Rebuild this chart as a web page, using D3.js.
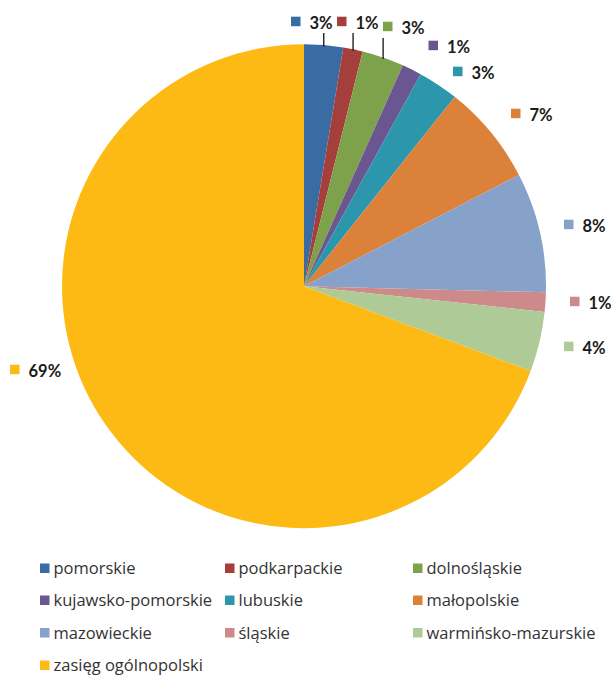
<!DOCTYPE html>
<html>
<head>
<meta charset="utf-8">
<script src="https://cdn.jsdelivr.net/npm/d3@7"></script>
<style>
  html, body { margin: 0; padding: 0; background: #fff; }
  svg { display: block; }
</style>
</head>
<body>
<svg id="chart" width="611" height="675"></svg>
<script>
// ---- data ----
const categories = ["pomorskie", "podkarpackie", "dolnośląskie", "kujawsko-pomorskie", "lubuskie",
  "małopolskie", "mazowieckie", "śląskie", "warmińsko-mazurskie", "zasięg ogólnopolski"];
const values = [2.6, 1.3, 2.8, 1.3, 2.7, 6.7, 8.0, 1.3, 4.0, 69.3];
const labels = ["3%", "1%", "3%", "1%", "3%", "7%", "8%", "1%", "4%", "69%"];
const colors = ["#3A6CA4", "#A53F3C", "#7EA24B", "#6A5690", "#2C96AC", "#DB813A", "#86A2CB", "#CC8B8A", "#AECA96", "#FDBA14"];

// ---- layout (label anchors: square-left x, text baseline y) ----
const labelAnchors = [[291, 29], [337, 29], [383, 34], [428.5, 53], [453, 79], [511, 121], [564, 232], [570, 309], [564, 354], [10, 377]];
const leaderTop = [33, 33, 38];

const cx = 304, cy = 286.2, r = 242;
const svg = d3.select("#chart");
const g = svg.append("g").attr("transform", `translate(${cx},${cy})`);

const pie = d3.pie().sort(null).value(d => d.v);
const data = categories.map((c, i) => ({ c, v: values[i], i }));
const arcs = pie(data);
const arc = d3.arc().innerRadius(0).outerRadius(r);

g.selectAll("path.slice").data(arcs).join("path")
  .attr("class", "slice")
  .attr("d", arc)
  .attr("fill", d => colors[d.data.i]);

// leader lines for the first three small slices
arcs.slice(0, 3).forEach((d, i) => {
  const a = (d.startAngle + d.endAngle) / 2;
  const x = cx + r * Math.sin(a);
  const y = cy - r * Math.cos(a);
  svg.append("line")
    .attr("x1", x).attr("y1", y + 1.5)
    .attr("x2", x).attr("y2", leaderTop[i])
    .attr("stroke", "#111").attr("stroke-width", 1.3);
});

// data labels
const lab = svg.append("g");
arcs.forEach((d, i) => {
  const [x, y] = labelAnchors[i];
  lab.append("rect").attr("x", x).attr("y", y - 12.3).attr("width", 9.5).attr("height", 9.5)
    .attr("fill", colors[i]);
  lab.append("text").attr("x", x + 18.5).attr("y", y)
    .attr("font-family", "Lato, 'Open Sans', sans-serif")
    .attr("font-weight", "bold").attr("font-size", 16.5)
    .attr("fill", "#1b1b1b")
    .text(labels[i]);
});

// legend
const colX = [40, 225, 413];
const rowY = [563.5, 595.5, 628, 660.5];
const leg = svg.append("g");
categories.forEach((c, i) => {
  const col = i % 3, row = Math.floor(i / 3);
  const x = colX[col], y = rowY[row];
  leg.append("rect").attr("x", x).attr("y", y).attr("width", 9.5).attr("height", 9.5).attr("fill", colors[i]);
  leg.append("text").attr("x", x + 13.5).attr("y", y + 10.5)
    .attr("font-family", "'Open Sans', sans-serif")
    .attr("font-size", 16.5)
    .attr("fill", "#333")
    .text(c);
});
</script>
</body>
</html>
